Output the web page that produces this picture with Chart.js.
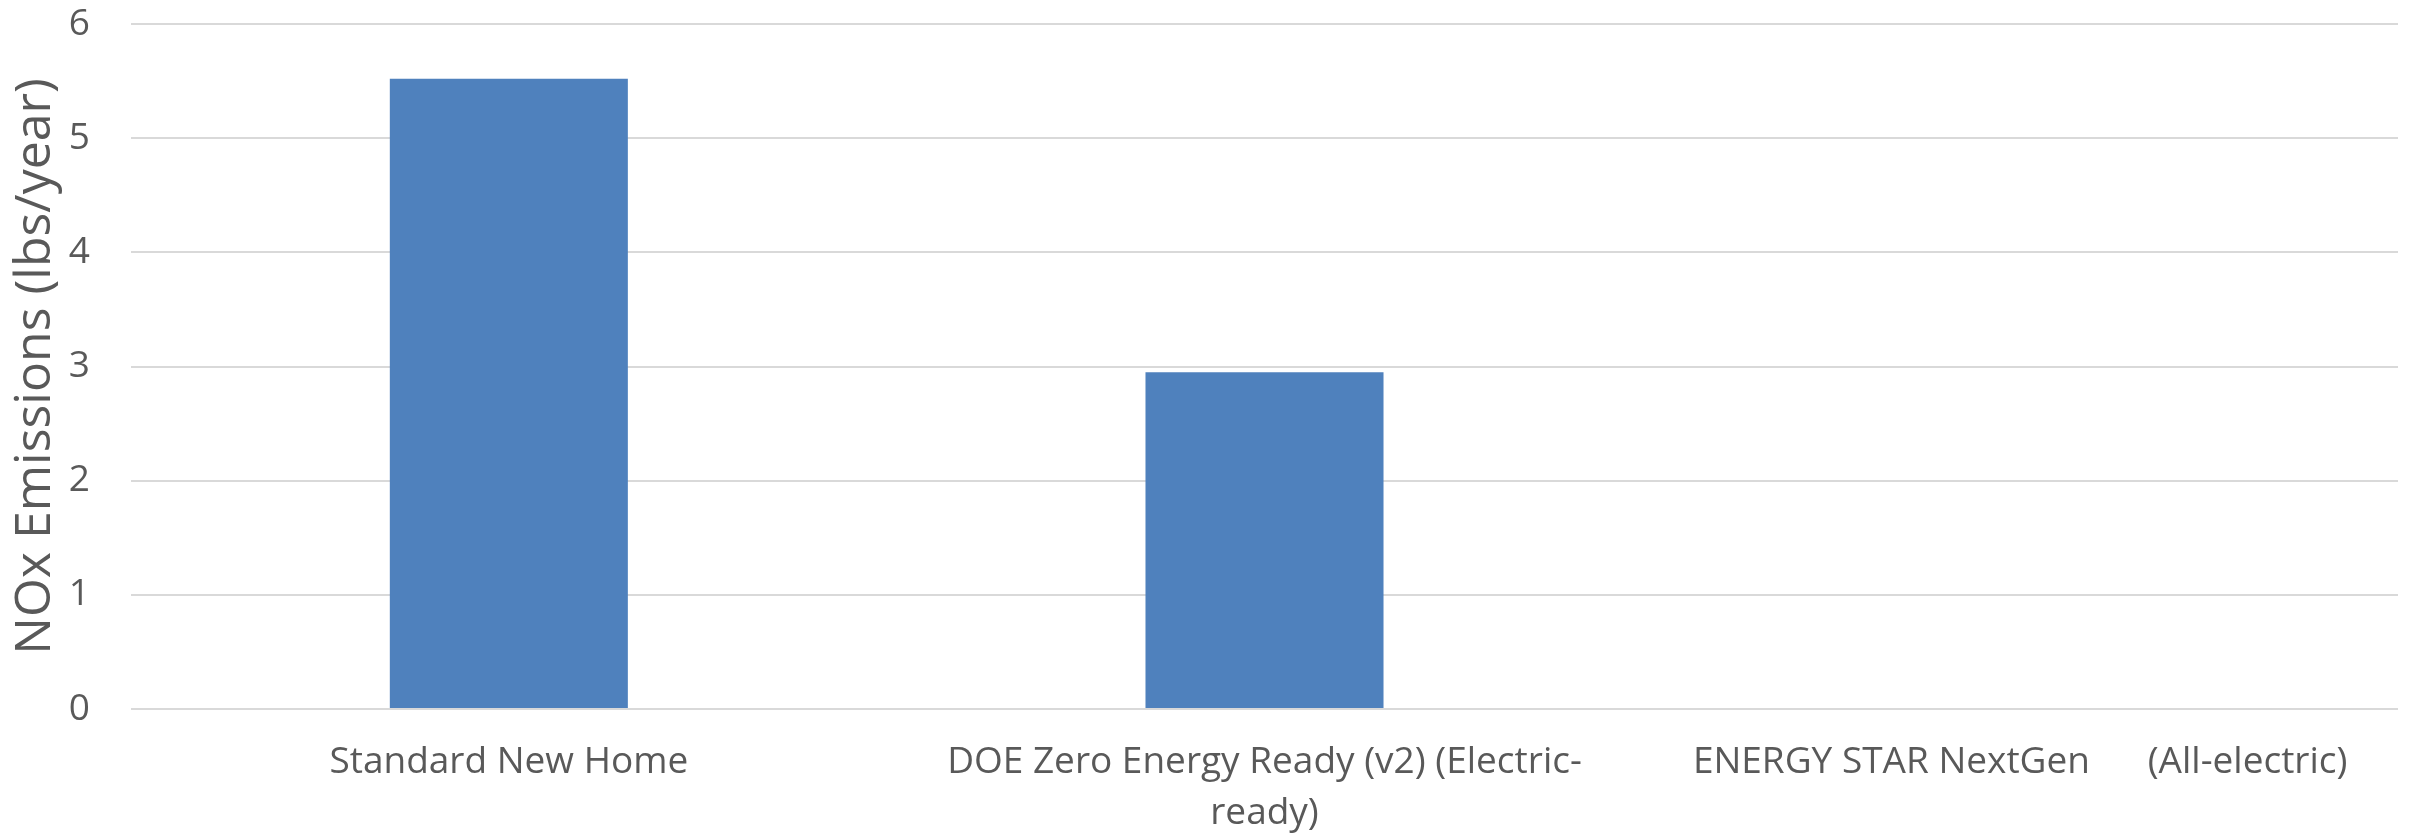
<!DOCTYPE html>
<html>
<head>
<meta charset="utf-8">
<script src="https://cdn.jsdelivr.net/npm/chart.js@4/dist/chart.umd.min.js"></script>
<style>
  html, body { margin: 0; padding: 0; background: #ffffff; }
  #wrap { width: 2410px; height: 837px; }
</style>
</head>
<body>
<div id="wrap"><canvas id="c" width="2410" height="837"></canvas></div>
<script>
const categories = [
  "Standard New Home",
  ["DOE Zero Energy Ready (v2) (Electric-", "ready)"],
  "ENERGY STAR NextGen      (All-electric)"
];
const noxValues = [5.52, 2.95, 0];
const yTicks = [0, 1, 2, 3, 4, 5, 6];
const yTitle = "NOx Emissions (lbs/year)";

const textColor = "#595959";
const gridColor = "#d9d9d9";
const barColor = "#4f81bd";
const fontFamily = "'Open Sans', 'Noto Sans', sans-serif";

new Chart(document.getElementById("c"), {
  type: "bar",
  data: {
    labels: categories,
    datasets: [{
      label: yTitle,
      data: noxValues,
      backgroundColor: barColor,
      borderWidth: 0,
      barPercentage: 1,
      categoryPercentage: 0.315
    }]
  },
  options: {
    responsive: false,
    devicePixelRatio: 1,
    animation: false,
    layout: { padding: { left: 0, right: 12, top: 24, bottom: 0 } },
    plugins: {
      legend: { display: false },
      tooltip: { enabled: false },
      title: { display: false }
    },
    scales: {
      x: {
        grid: { display: false, drawTicks: false },
        border: { display: false },
        ticks: {
          color: textColor,
          font: { family: fontFamily, size: 37, lineHeight: 1.38 },
          padding: 28,
          maxRotation: 0,
          minRotation: 0,
          autoSkip: false
        },
        afterFit: (s) => {
          s.height = 128;
          s.paddingLeft = 0; s.paddingRight = 0;
        }
      },
      y: {
        min: 0,
        max: 6,
        afterBuildTicks: (s) => { s.ticks = yTicks.map(v => ({ value: v })); },
        grid: { color: gridColor, lineWidth: 2, drawTicks: false },
        border: { display: false },
        ticks: {
          color: textColor,
          font: { family: fontFamily, size: 37 },
          padding: 41
        },
        title: {
          display: true,
          text: yTitle,
          color: textColor,
          font: { family: fontFamily, size: 50 },
          padding: { top: 6, bottom: 0 }
        },
        afterFit: (s) => {
          s.width = 131;
          s.paddingTop = 0; s.paddingBottom = 0;
        }
      }
    }
  }
});
</script>
</body>
</html>
